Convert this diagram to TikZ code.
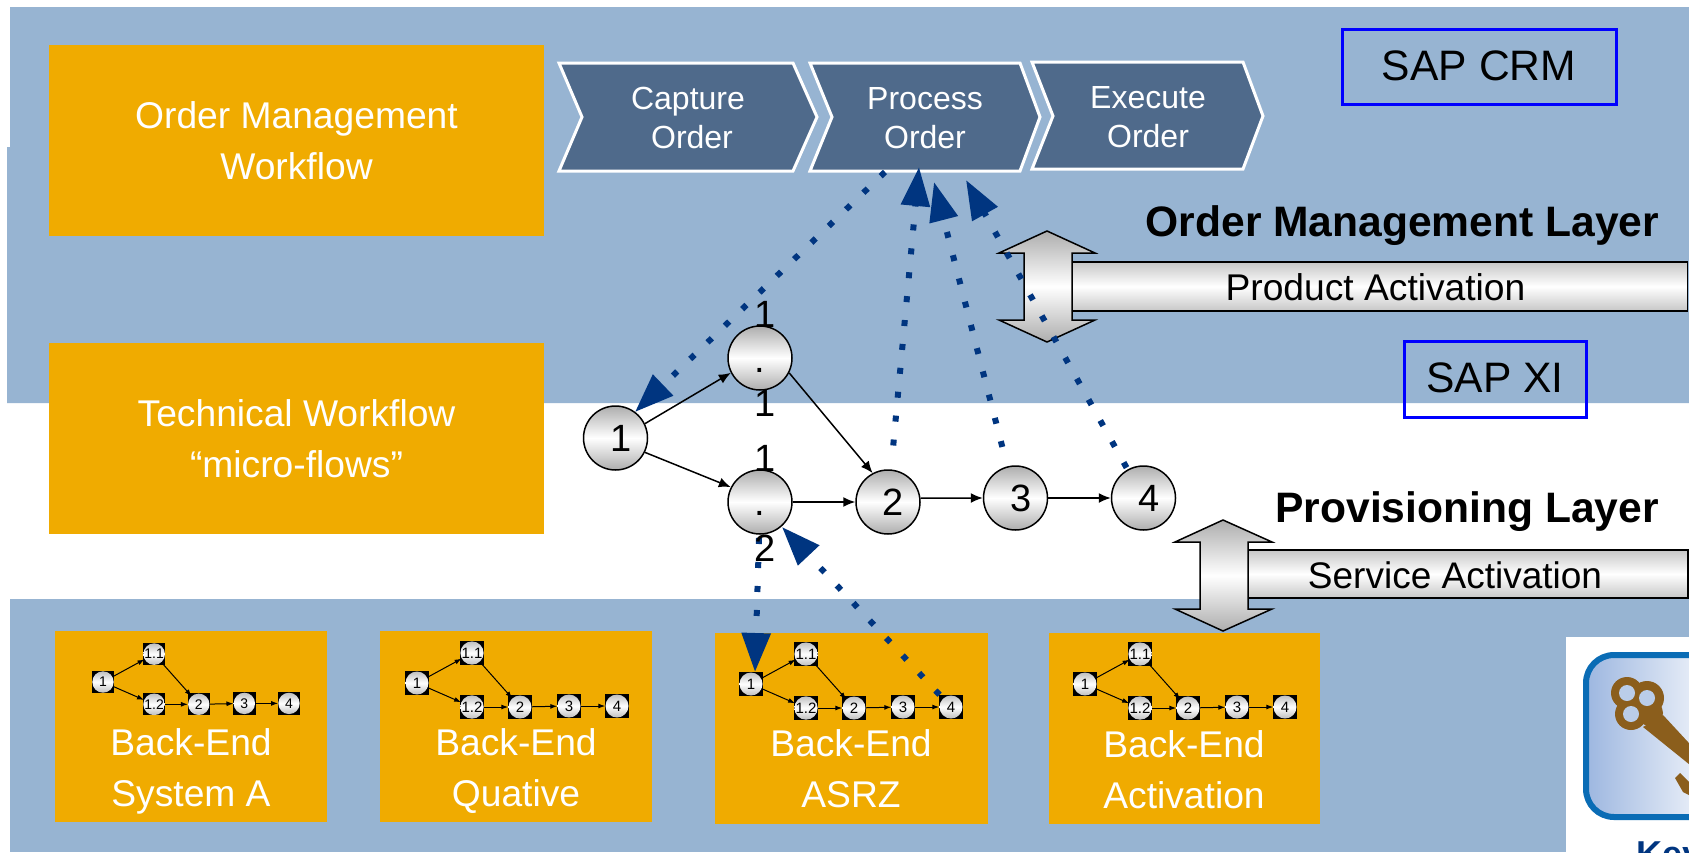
\documentclass[tikz,border=0pt]{standalone}
\usepackage{fontspec}
\setmainfont{Liberation Sans}
\usetikzlibrary{arrows.meta}
\definecolor{bandblue}{HTML}{97B4D2}
\definecolor{boxorange}{HTML}{F0AB00}
\definecolor{chevblue}{HTML}{4F6A8B}
\definecolor{dotblue}{HTML}{003580}
\definecolor{keybrown}{HTML}{8B5E1C}
\definecolor{keyblue}{HTML}{0A6CB5}
\definecolor{keyfill}{HTML}{9DB7E0}
\tikzset{
  silver/.style={top color=black!#1,bottom color=black!#1,middle color=white},
  box/.style={fill=boxorange,text=white,align=center,inner sep=0pt,font=\fontsize{37.2}{51}\selectfont},
  chevron/.style={fill=chevblue,draw=white,line width=3pt,line join=miter},
  chevtext/.style={text=white,align=center,inner sep=0pt,font=\fontsize{32}{39}\selectfont},
  sapbox/.style={draw=blue,line width=3pt,inner sep=0pt,font=\fontsize{42.6}{50}\selectfont},
  bar/.style={silver=22,draw=black,line width=1.5pt,inner sep=0pt},
  updown/.style={silver=32,draw=black,line width=1.5pt,line join=miter},
  layer/.style={inner sep=0pt,anchor=base east,font=\bfseries\fontsize{42.6}{50}\selectfont},
  step node/.style={circle,silver=32,draw=black,line width=1.5pt,minimum size=64pt,inner sep=0pt,font=\fontsize{38}{40}\selectfont,execute at begin node=\kern11pt},
  split/.style={inner sep=0pt,anchor=base,font=\fontsize{38}{40}\selectfont},
  flow/.style={line width=1.5pt,-{Latex[length=12pt,width=10pt]}},
  dotflow/.style={dotblue,line width=6pt,dash pattern=on 6pt off 18pt,-{Triangle[length=39pt,width=28pt]}},
  minibox/.style={fill=black,minimum size=24pt,inner sep=0pt},
  miniball/.style={circle,silver=25,minimum size=23pt,inner sep=0pt,font=\fontsize{15}{16}\selectfont},
  miniflow/.style={line width=1pt,-{Latex[length=7pt,width=5pt]}},
}
% small copy of the step chain: x, y, scale, name prefix
\newcommand{\minichain}[4]{
  \begin{scope}[shift={(#1,#2)},scale=#3,transform shape]
    \foreach \nm/\lb/\px/\py in {a/1/0/0,b/1.1/55/-30,c/1.2/55/24,d/2/103/24,e/3/152/23,f/4/200/23}{
      \node[minibox] (#4\nm) at (\px,\py) {};
      \node[miniball] (#4\nm-ball) at (\px,\py) {\lb};
    }
    \draw[miniflow] (#4a-ball) -- (#4b-ball);
    \draw[miniflow] (#4a-ball) -- (#4c-ball);
    \draw[miniflow] (#4b-ball) -- (#4d-ball);
    \draw[miniflow] (#4c-ball) -- (#4d-ball);
    \draw[miniflow] (#4d-ball) -- (#4e-ball);
    \draw[miniflow] (#4e-ball) -- (#4f-ball);
  \end{scope}
}
\begin{document}
\begin{tikzpicture}[x=1pt,y=-1pt]
  \clip (0,0) rectangle (1689,852);
  \fill[white] (0,0) rectangle (1689,852);
  % layers
  \fill[bandblue] (10,7) -- (1689,7) -- (1689,403) -- (7,403) -- (7,147) -- (10,147) -- cycle;
  \fill[bandblue] (10,599) rectangle (1689,852);
  % left boxes
  \node[box,minimum width=495pt,minimum height=191pt] (ordermgmt) at (296.5,140.5) {\raisebox{-1.5pt}{Order Management}\\\raisebox{-1.5pt}{Workflow}};
  \node[box,minimum width=495pt,minimum height=191pt] (techflow) at (296.5,438.5) {Technical Workflow\\“micro-flows”};
  \node[box,minimum width=272pt,minimum height=191pt] (backa) at (191,726.5) {};
  \node[box,minimum width=272pt,minimum height=191pt] (backq) at (516,726.5) {};
  \node[box,minimum width=273pt,minimum height=191pt] (backr) at (851.5,728.5) {};
  \node[box,minimum width=271pt,minimum height=191pt] (backv) at (1184.5,728.5) {};
  \node[box,fill=none] (backatext) at (191,771) {Back-End\\System A};
  \node[box,fill=none] (backqtext) at (516,771) {Back-End\\Quative};
  \node[box,fill=none] (backrtext) at (851,769) {Back-End\\ASRZ};
  \node[box,fill=none] (backvtext) at (1184,769.5) {Back-End\\Activation};
  % order steps
  \draw[chevron] (559,63) -- (793,63) -- (817,117) -- (793,171) -- (559,171) -- (582,117) -- cycle;
  \draw[chevron] (810,63) -- (1020,63) -- (1040,117) -- (1020,171) -- (810,171) -- (832,117) -- cycle;
  \draw[chevron] (1032,62) -- (1243,62) -- (1263,116) -- (1243,169) -- (1032,169) -- (1053,116) -- cycle;
  \node[chevtext] (capture) at (690,118) {Capture\kern4pt\\\kern4pt Order};
  \node[chevtext] (process) at (925,118) {Process\\Order};
  \node[chevtext] (execute) at (1148,117) {Execute\\Order};
  % system tags
  \node[sapbox,minimum width=274pt,minimum height=75pt] (crm) at (1479,66.5) {\raisebox{2pt}{SAP CRM}};
  \node[sapbox,minimum width=182pt,minimum height=76pt] (xi) at (1495,379) {\raisebox{2pt}{SAP XI}};
  \node[layer] (omlayer) at (1659.5,236) {Order Management Layer};
  \node[layer] (provlayer) at (1659,522) {Provisioning Layer};
  % activation bars
  \node[bar,minimum width=617pt,minimum height=49pt] (product) at (1379,286.5) {};
  \node[inner sep=0pt,font=\fontsize{37.2}{40}\selectfont] (producttext) at (1375.5,287) {Product Activation};
  \node[bar,minimum width=440pt,minimum height=48pt] (service) at (1468,574) {};
  \node[inner sep=0pt,font=\fontsize{37}{40}\selectfont] (servicetext) at (1455,575) {Service Activation};
  \draw[updown] (1047,231) -- (1095,253) -- (1072,253) -- (1072,320) -- (1095,320) -- (1047,342) -- (999,320) -- (1024,320) -- (1024,253) -- (999,253) -- cycle;
  \draw[updown] (1223,520) -- (1272,542) -- (1248,542) -- (1248,609) -- (1272,609) -- (1223,631) -- (1175,609) -- (1200,609) -- (1200,542) -- (1175,542) -- cycle;
  % technical steps
  \node[step node] (n1) at (615.5,438) {1};
  \node[step node] (n11) at (760,358) {};
  \node[step node] (n12) at (760,502) {};
  \node[step node] (n2) at (888,502) {2};
  \node[step node] (n3) at (1015.5,498) {3};
  \node[step node] (n4) at (1143.5,498) {4};
  \draw[flow] (n1.26) -- (n11.207);
  \draw[flow] (n1.-26) -- (n12.153);
  \draw[flow] (n11.-27) -- (n2.118);
  \draw[flow] (n12) -- (n2);
  \draw[flow] (n2.7) -- (n3.180);
  \draw[flow] (n3) -- (n4);
  % back-end copies
  \minichain{103}{682}{0.93}{sysa}
  \minichain{417}{683}{1}{quat}
  \minichain{751}{684}{1}{asrz}
  \minichain{1085}{684}{1}{actv}
  % dotted call lines
  \coordinate (tipa) at (635,412);
  \coordinate (tipb) at (919,167);
  \coordinate (tipc) at (934,182);
  \coordinate (tipd) at (966,180);
  \coordinate (tipe) at (755,672);
  \coordinate (tipf) at (782,527);
  \coordinate (starta) at (885,172);
  \coordinate (starte) at (759,538);
  \draw[dotflow] (starta) -- (tipa);
  \draw[dotflow,shorten <=24pt] (n2) -- (tipb);
  \draw[dotflow,shorten <=20pt] (n3) -- (tipc);
  \draw[dotflow,shorten <=2pt] (n4) -- (tipd);
  \draw[dotflow] (starte) -- (tipe);
  \draw[dotflow] (asrzf) -- (tipf);
  % wrapped labels of the two split steps
  \node[split] (n11top) at (765,327) {1};
  \node[split] (n11mid) at (760,372) {.};
  \node[split] (n11low) at (765,416) {1};
  \node[split] (n12top) at (765,471) {1};
  \node[split] (n12mid) at (760,515) {.};
  \node[split] (n12low) at (765,561) {2};
  % key picture
  \fill[white] (1566,637) rectangle (1689,852);
  \draw[keyblue,line width=6pt,rounded corners=28pt,left color=keyfill,right color=white] (1586,655) rectangle (1730,817);
  \fill[keybrown] (1663,715) -- (1700,755) -- (1700,773) -- (1643,727) -- cycle;
  \fill[keybrown] (1675,778) -- (1680,773) -- (1689,782) -- (1689,795) -- (1683,792) -- cycle;
  \fill[keybrown] (1627,693) circle (16pt) (1647,698) circle (17pt) (1631,714) circle (16pt) (1650,713) circle (13pt);
  \fill[keyfill!70!white] (1627,693) circle (8pt) (1647,698) circle (8pt) (1631,714) circle (8pt);
  \node[inner sep=0pt,anchor=base west,text=dotblue,font=\bfseries\fontsize{36}{40}\selectfont] (keytext) at (1636,866) {Key};
\end{tikzpicture}
\end{document}
